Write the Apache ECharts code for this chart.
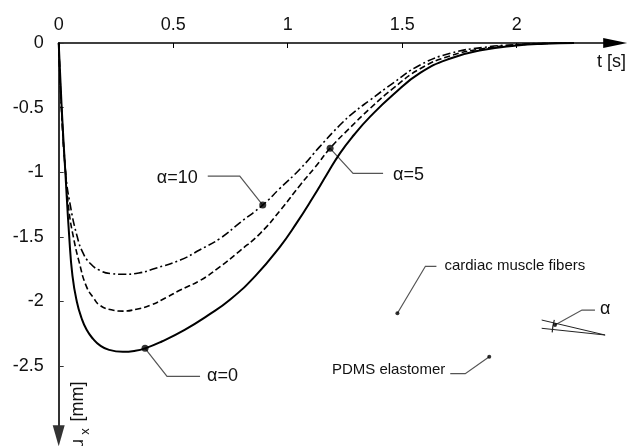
<!DOCTYPE html>
<html>
<head>
<meta charset="utf-8">
<script src="https://cdn.jsdelivr.net/npm/echarts@6/dist/echarts.min.js"></script>
<style>
html, body { margin: 0; padding: 0; background: #fff; }
#chart { width: 632px; height: 446px; }
</style>
</head>
<body>
<div id="chart"></div>
<script>
// tick values
var xTicks = [0, 0.5, 1, 1.5, 2];
var yTicks = [0, -0.5, -1, -1.5, -2, -2.5];

// u_x [mm] over t [s]
var alpha0 = [[0,0],[0.013,-0.5],[0.029,-1.0],[0.046,-1.5],[0.06,-1.8],[0.079,-2.0],[0.1,-2.13],[0.122,-2.22],
  [0.15,-2.29],[0.18,-2.34],[0.22,-2.375],[0.28,-2.39],[0.33,-2.383],[0.377,-2.363],[0.45,-2.31],[0.55,-2.22],
  [0.65,-2.11],[0.749,-1.985],[0.86,-1.80],[0.966,-1.577],[1.04,-1.39],[1.112,-1.19],[1.17,-1.02],[1.228,-0.854],
  [1.29,-0.71],[1.36,-0.57],[1.46,-0.40],[1.58,-0.23],[1.71,-0.12],[1.85,-0.055],[2.0,-0.02],[2.12,-0.006],[2.25,0]];
var alpha5 = [[0,0],[0.012,-0.5],[0.03,-1.0],[0.045,-1.3],[0.064,-1.5],[0.09,-1.7],[0.12,-1.88],[0.151,-1.97],
  [0.18,-2.03],[0.23,-2.065],[0.28,-2.075],[0.34,-2.06],[0.4,-2.03],[0.47,-1.97],[0.531,-1.912],[0.62,-1.835],
  [0.705,-1.731],[0.79,-1.61],[0.88,-1.473],[0.97,-1.29],[1.054,-1.10],[1.12,-0.96],[1.185,-0.815],[1.27,-0.66],
  [1.36,-0.506],[1.46,-0.352],[1.578,-0.199],[1.71,-0.10],[1.85,-0.045],[2.0,-0.015],[2.12,-0.004],[2.25,0]];
var alpha10 = [[0,0],[0.012,-0.5],[0.03,-1.0],[0.05,-1.25],[0.081,-1.5],[0.105,-1.62],[0.137,-1.705],[0.18,-1.76],
  [0.23,-1.785],[0.28,-1.79],[0.35,-1.78],[0.42,-1.745],[0.531,-1.68],[0.617,-1.60],[0.705,-1.512],[0.792,-1.39],
  [0.891,-1.254],[0.966,-1.125],[1.054,-0.975],[1.141,-0.80],[1.228,-0.635],[1.29,-0.535],[1.36,-0.441],
  [1.46,-0.31],[1.578,-0.17],[1.71,-0.08],[1.85,-0.035],[2.0,-0.012],[2.12,-0.003],[2.25,0]];

// marked points on the curves and sketch points
var curveDots = [[0.891,-1.254],[1.185,-0.815],[0.377,-2.363]];
var curveLabels = ['α=10', 'α=5', 'α=0'];
var sketchDots = [[1.479,-2.092],[1.880,-2.428],[2.167,-2.183]];
var sketchLabels = ['cardiac muscle fibers', 'PDMS elastomer', 'α'];
// fibre angle sketch: apex, upper and lower line starts
var angleLines = [[2.386,-2.260],[2.109,-2.144],[2.109,-2.208]];

var font = '"Liberation Sans", Arial, Helvetica, sans-serif';

var chart = echarts.init(document.getElementById('chart'));

var option = {
  animation: false,
  backgroundColor: '#fff',
  grid: { left: 58.7, top: 43, width: 556.5, height: 392.8 },
  xAxis: {
    type: 'value',
    position: 'top',
    min: 0,
    max: 2.43,
    interval: 0.5,
    axisLine: {
      onZero: false,
      symbol: ['none', 'triangle'],
      symbolSize: [10, 24],
      lineStyle: { color: '#000', width: 1.5 }
    },
    axisTick: { inside: true, length: 5, customValues: xTicks, lineStyle: { color: '#000' } },
    axisLabel: { customValues: xTicks, margin: 9, fontSize: 18, color: '#111', fontFamily: font },
    splitLine: { show: false }
  },
  yAxis: {
    type: 'value',
    min: -3.04,
    max: 0,
    interval: 0.5,
    axisLine: {
      onZero: false,
      symbol: ['triangle', 'none'],
      symbolSize: [12, 21],
      lineStyle: { color: '#333', width: 2 }
    },
    axisTick: { inside: true, length: 5, customValues: yTicks, lineStyle: { color: '#333' } },
    axisLabel: { customValues: yTicks, margin: 15, fontSize: 18, color: '#111', fontFamily: font },
    splitLine: { show: false }
  },
  series: [
    { name: 'α=0', type: 'line', data: alpha0, smooth: 0.5, showSymbol: false,
      lineStyle: { color: '#000', width: 2 } },
    { name: 'α=5', type: 'line', data: alpha5, smooth: 0.5, showSymbol: false,
      lineStyle: { color: '#000', width: 1.6, type: [6, 3] } },
    { name: 'α=10', type: 'line', data: alpha10, smooth: 0.5, showSymbol: false,
      lineStyle: { color: '#000', width: 1.6, type: [8, 3, 2, 3] } },
    { type: 'scatter', data: curveDots, symbolSize: 7, itemStyle: { color: '#000' }, z: 5 },
    { type: 'scatter', data: sketchDots, symbolSize: 4, itemStyle: { color: '#000' }, z: 5 }
  ]
};
chart.setOption(option);

function px(p) { return chart.convertToPixel({ gridIndex: 0 }, p); }

// leader lines as pixel offsets from each dot
var leaders = [
  { at: curveDots[0], pts: [[0,0],[-23,-29],[-55,-29]], text: curveLabels[0], tx: -65, ty: -27, align: 'right', size: 18 },
  { at: curveDots[1], pts: [[0,0],[23,25],[53,25]], text: curveLabels[1], tx: 63, ty: 27, align: 'left', size: 18 },
  { at: curveDots[2], pts: [[0,0],[22,28],[55,28]], text: curveLabels[2], tx: 62, ty: 28, align: 'left', size: 18 },
  { at: sketchDots[0], pts: [[0,0],[28,-47],[39,-47]], text: sketchLabels[0], tx: 47, ty: -47, align: 'left', size: 15 },
  { at: sketchDots[1], pts: [[0,0],[-24,17],[-39,17]], text: sketchLabels[1], tx: -44, ty: 13, align: 'right', size: 15 },
  { at: sketchDots[2], pts: [[0,0],[27,-15],[40,-15]], text: sketchLabels[2], tx: 45, ty: -16, align: 'left', size: 18 }
];

var graphic = [];
leaders.forEach(function (l) {
  var c = px(l.at);
  graphic.push({
    type: 'polyline',
    shape: { points: l.pts.map(function (o) { return [c[0] + o[0], c[1] + o[1]]; }) },
    style: { stroke: '#555', lineWidth: 1.2, fill: null }
  });
  graphic.push({
    type: 'text',
    x: c[0] + l.tx, y: c[1] + l.ty,
    style: { text: l.text, fontSize: l.size, fontFamily: font, fill: '#111', align: l.align, verticalAlign: 'middle' }
  });
});

// angle sketch
var apex = px(angleLines[0]);
[angleLines[1], angleLines[2]].forEach(function (p) {
  var s = px(p);
  graphic.push({ type: 'line', shape: { x1: s[0], y1: s[1], x2: apex[0], y2: apex[1] },
    style: { stroke: '#222', lineWidth: 1 } });
});
graphic.push({ type: 'arc', shape: { cx: apex[0], cy: apex[1], r: 53, startAngle: Math.PI + 0.05, endAngle: Math.PI + 0.29 },
  style: { stroke: '#222', lineWidth: 1.2, fill: null } });

// axis titles
graphic.push({ type: 'text', x: 597, y: 62,
  style: { text: 't [s]', fontSize: 18, fontFamily: font, fill: '#111', align: 'left', verticalAlign: 'middle' } });
graphic.push({ type: 'text', x: 78, y: 401.5, rotation: Math.PI / 2,
  style: { text: '[mm]', fontSize: 18, fontFamily: font, fill: '#111', align: 'center', verticalAlign: 'middle' } });
graphic.push({ type: 'text', x: 85, y: 431.5, rotation: Math.PI / 2,
  style: { text: 'x', fontSize: 13, fontFamily: font, fill: '#111', align: 'center', verticalAlign: 'middle' } });
graphic.push({ type: 'text', x: 78, y: 444, rotation: Math.PI / 2,
  style: { text: 'u', fontSize: 18, fontFamily: font, fill: '#111', align: 'center', verticalAlign: 'middle' } });

chart.setOption({ graphic: graphic });
</script>
</body>
</html>
